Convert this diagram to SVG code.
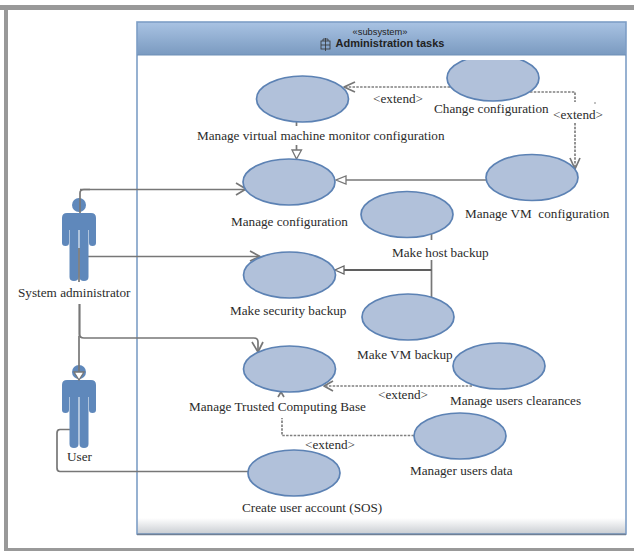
<svg xmlns="http://www.w3.org/2000/svg" width="634" height="551" viewBox="0 0 634 551">
<style>
.uc{fill:#b1c1da;stroke:#5c82b4;stroke-width:1.700}
.t{font-family:"Liberation Serif","Times New Roman",serif;font-size:13.200px;fill:#2b2b2b}
.c{fill:none;stroke:#777;stroke-width:1.700;stroke-linejoin:round}
.d{fill:none;stroke:#808080;stroke-width:1.700;stroke-dasharray:2.500 1.300}
.k{fill:none;stroke:#5f5f5f;stroke-width:2.200}
.a{fill:#5f88bb}
.h{font-family:"Liberation Sans",Arial,sans-serif;fill:#222}
</style>
<defs>
<linearGradient id="hd" x1="0" y1="0" x2="0" y2="1"><stop offset="0" stop-color="#a9c3e3"/><stop offset="1" stop-color="#7a9ac0"/></linearGradient>
<linearGradient id="ft" x1="0" y1="0" x2="0" y2="1"><stop offset="0" stop-color="#fff"/><stop offset="1" stop-color="#c9cdd2"/></linearGradient>
<symbol id="actor" overflow="visible">
<circle class="a" cx="17" cy="-8" r="7"/>
<path class="a" d="M5 0H29Q34 0 34 5V30Q34 33 30.500 33T27 30V17H26.500V64Q26.500 68 22 68T17.500 64V17H16.500V64Q16.500 68 12 68T7.500 64V17H7V30Q7 33 3.500 33T0 30V5Q0 0 5 0Z"/>
</symbol>
</defs>
<rect width="634" height="551" fill="#fff"/>
<g id="frame" fill="#999">
<rect x="0" y="5" width="634" height="5"/>
<rect x="4" y="5" width="4" height="546"/>
<rect x="4" y="548" width="630" height="3"/>
</g>
<g id="subsystem">
<rect x="137" y="22" width="489" height="512" fill="#fff"/>
<rect x="137" y="518" width="489" height="16" fill="url(#ft)"/>
<rect x="137" y="22" width="489" height="33" fill="url(#hd)"/>
<rect x="137" y="22" width="489" height="512" fill="none" stroke="#7d9ec6" stroke-width="1.600"/>
<path d="M137 55H626" stroke="#6f8fb6" stroke-width="1"/>
<path d="M137 534.500H626" stroke="#6f7f95" stroke-width="1.500"/>
<text class="h" x="380" y="35" font-size="9.300" text-anchor="middle">«subsystem»</text>
<g fill="none" stroke="#333" stroke-width="0.800"><rect x="321" y="41" width="9" height="8"/><path d="M323 41V39H328V41M321 45H330M325.500 38V51"/></g>
<text class="h" x="390" y="47" font-size="11" font-weight="bold" text-anchor="middle">Administration tasks</text>
</g>
<g id="connectors">
<path class="c" d="M236 183L246 189L236 195"/>
<path class="c" d="M80 189.500H246"/>
<path class="c" d="M87 256.500H260"/>
<path class="c" d="M250 251L260 256.500L250 261"/>
<path class="c" d="M79.500 304V334Q79.500 338 84 338H254Q258 338 258 342V352"/>
<path class="c" d="M252 342L258 352L263 342"/>
<path class="c" d="M71 429.500H60Q57 429.500 57 433V468Q57 471.500 60 471.500H248"/>
<path class="d" d="M450 87H346"/>
<path class="c" d="M355 82L344 87L355 92" stroke-width="1.300"/>
<path class="d" d="M530 92H575V102M575 123V168"/>
<path class="c" d="M570 158L575 169L580 158" stroke-width="1.300"/>
<circle cx="595" cy="103" r="0.700" fill="#555"/>
<path class="c" d="M296.500 122V126M296.500 145V150"/>
<path d="M292 150H301.500L296.500 159Z" fill="#fff" stroke="#777" stroke-width="1.300"/>
<path class="c" d="M486 180H346"/>
<path d="M346 176V184L336 180Z" fill="#fff" stroke="#777" stroke-width="1.300"/>
<path class="c" d="M431.500 234V240M431.500 260V298"/>
<path class="k" d="M431.500 270H344"/>
<path d="M344 266V274L335 270Z" fill="#fff" stroke="#666" stroke-width="1.300"/>
<path class="d" d="M472 386H326"/>
<path class="c" d="M333 381L324 386L333 391" stroke-width="1.300"/>
<path class="d" d="M414 435.500H282V418"/>
<path class="c" d="M278 397L281 392L284 397" stroke-width="1.300"/>
</g>
<g id="uc-change-configuration">
<clipPath id="cut"><rect x="440" y="60" width="110" height="50"/></clipPath>
<ellipse class="uc" cx="493" cy="78" rx="46" ry="23" clip-path="url(#cut)"/>
<text class="t" x="434" y="113">Change configuration</text></g>
<g id="uc-manage-vmm"><ellipse class="uc" cx="302.500" cy="99" rx="46" ry="23"/>
<text class="t" x="197" y="140">Manage virtual machine monitor configuration</text></g>
<g id="uc-manage-configuration"><ellipse class="uc" cx="289" cy="182" rx="46" ry="23"/>
<text class="t" x="231" y="226">Manage configuration</text></g>
<g id="uc-manage-vm"><ellipse class="uc" cx="532" cy="177.500" rx="46" ry="23"/>
<text class="t" x="465" y="218" xml:space="preserve">Manage VM  configuration</text></g>
<g id="uc-host-backup"><ellipse class="uc" cx="407" cy="214.500" rx="46" ry="23"/>
<text class="t" x="392" y="257">Make host backup</text></g>
<g id="uc-security-backup"><ellipse class="uc" cx="289.500" cy="275" rx="46" ry="23"/>
<text class="t" x="230" y="315">Make security backup</text></g>
<g id="uc-vm-backup"><ellipse class="uc" cx="408" cy="317" rx="46" ry="23"/>
<text class="t" x="357" y="359">Make VM backup</text></g>
<g id="uc-tcb"><ellipse class="uc" cx="289.500" cy="369" rx="46" ry="23"/>
<text class="t" x="189" y="411">Manage Trusted Computing Base</text></g>
<g id="uc-clearances"><ellipse class="uc" cx="499" cy="366" rx="46" ry="23"/>
<text class="t" x="450" y="405">Manage users clearances</text></g>
<g id="uc-users-data"><ellipse class="uc" cx="460" cy="436" rx="46" ry="23"/>
<text class="t" x="410" y="475">Manager users data</text></g>
<g id="uc-create-user"><ellipse class="uc" cx="294" cy="473" rx="46" ry="23"/>
<text class="t" x="242" y="512">Create user account (SOS)</text></g>
<g id="extend-labels">
<text class="t" x="373" y="103">&lt;extend&gt;</text>
<text class="t" x="553" y="119">&lt;extend&gt;</text>
<text class="t" x="378" y="399">&lt;extend&gt;</text>
<text class="t" x="305" y="449">&lt;extend&gt;</text>
</g>
<g id="actor-admin"><use href="#actor" x="62" y="213"/>
<text class="t" x="18" y="297">System administrator</text></g>
<g id="actor-user"><use href="#actor" x="62" y="380"/>
<text class="t" x="67" y="461">User</text></g>
<g id="connectors-over-actors">
<path class="c" d="M80 213V193Q80 189.500 84 189.500H90"/>
<path class="c" d="M79 248V282"/>
<path class="c" d="M79.500 304V336" stroke-width="2.800"/>
<path class="c" d="M79 336V373"/>
<path d="M74 372H84L79 380Z" fill="#fff" stroke="#777" stroke-width="1.300"/>
</g>
</svg>
